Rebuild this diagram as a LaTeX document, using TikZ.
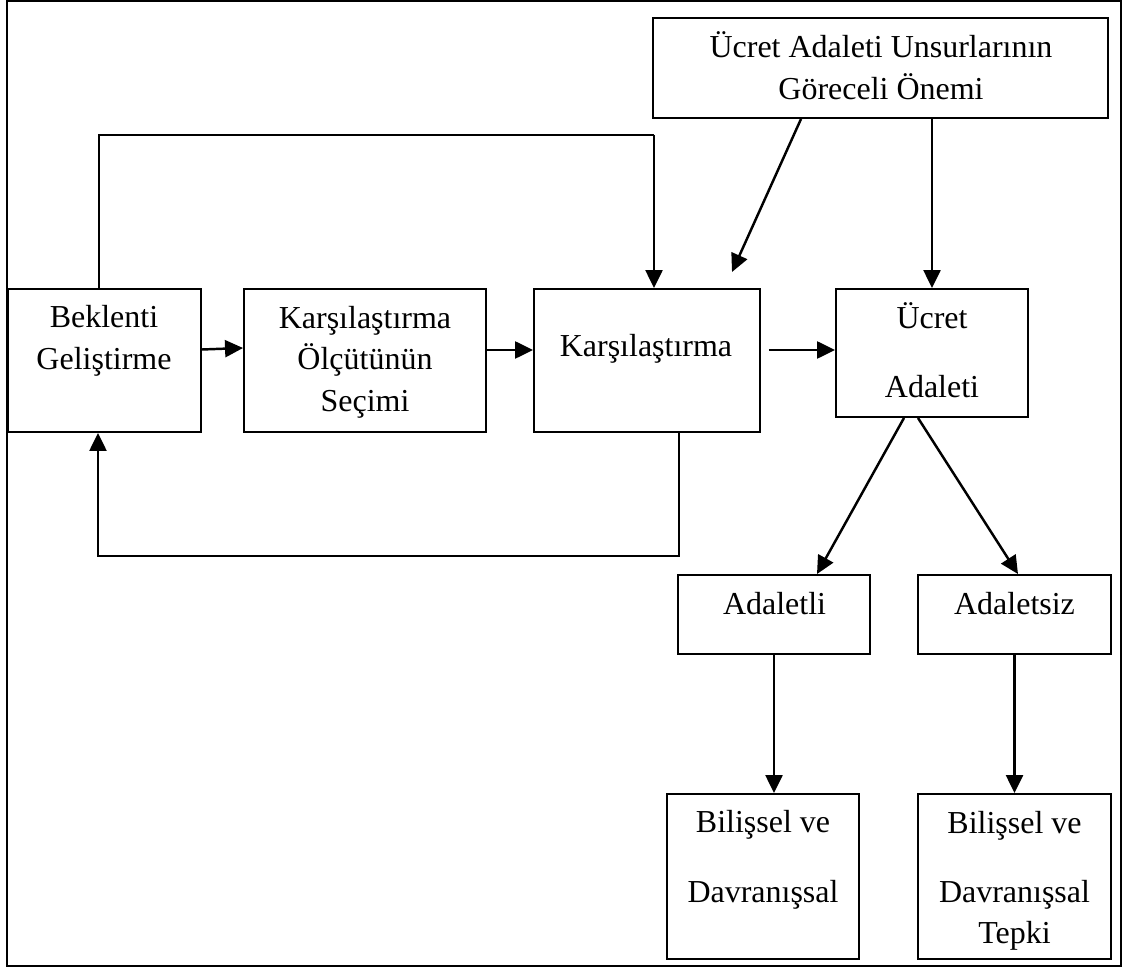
\documentclass[tikz,border=0pt]{standalone}
\usepackage{fontspec}
\setmainfont{Liberation Serif}
\usetikzlibrary{arrows.meta}

\begin{document}
\begin{tikzpicture}[
        font=\fontsize{18.2}{23.9}\selectfont,
        box/.style={rectangle, draw, line width=1.1pt, inner sep=0pt},
        txt/.style={align=center, anchor=base, inner sep=0pt},
        arr/.style={-{Triangle[length=0.36cm, width=0.34cm]}, line width=1.4pt},
        plain/.style={line width=1pt},
    ]
        \useasboundingbox (0,0) rectangle (22.46,-19.38);

        % Frame
        \draw[line width=1.2pt] (0.14,-0.02) rectangle (22.42,-19.32);

        % Main row
        \node[box, minimum width=3.86cm, minimum height=2.86cm] (bek) at (2.09,-7.21) {};
        \node[box, minimum width=4.84cm, minimum height=2.86cm] (olc) at (7.30,-7.21) {};
        \node[box, minimum width=4.52cm, minimum height=2.86cm] (kar) at (12.94,-7.21) {};
        \node[box, minimum width=3.84cm, minimum height=2.56cm] (ucret) at (18.64,-7.06) {};
        \node[txt] (bektxt) at (2.08,-7.40) {Beklenti\\Geliştirme};
        \node[txt] (olctxt) at (7.30,-8.24) {Karşılaştırma\\Ölçütünün\\Seçimi};
        \node[txt] (kartxt) at (12.92,-7.14) {Karşılaştırma};
        \node[txt] (ucrettxt) at (18.64,-7.96) {Ücret\\[15.9pt]Adaleti};

        % Relative importance
        \node[box, minimum width=9.10cm, minimum height=2.00cm] (onem) at (17.61,-1.36) {};
        \node[txt] (onemtxt) at (17.62,-2.00) {Ücret Adaleti Unsurlarının\\Göreceli Önemi};

        % Outcomes
        \node[box, minimum width=3.84cm, minimum height=1.58cm] (adl) at (15.48,-12.29) {};
        \node[box, minimum width=3.86cm, minimum height=1.58cm] (ads) at (20.29,-12.29) {};
        \node[txt] (adltxt) at (15.49,-12.28) {Adaletli};
        \node[txt] (adstxt) at (20.29,-12.28) {Adaletsiz};

        % Reactions
        \node[box, minimum width=3.84cm, minimum height=3.30cm] (tep1) at (15.26,-17.53) {};
        \node[box, minimum width=3.86cm, minimum height=3.30cm] (tep2) at (20.29,-17.53) {};
        \node[txt] (tep1txt) at (15.26,-18.04) {Bilişsel ve\\[15.4pt]Davranışsal};
        \node[txt] (tep2txt) at (20.29,-18.86) {Bilişsel ve\\[15.4pt]Davranışsal\\[-0.7pt]Tepki};

        % Free end of the slanted arrow, corner of the top loop
        \coordinate (mod) at (14.64,-5.44);
        \coordinate (turn) at (13.08,-2.70);

        % Arrows
        \draw[arr] ([yshift=0.22cm]bek.east) -- ([yshift=0.25cm]olc.west);
        \draw[arr] ([yshift=0.21cm]olc.east) -- ([yshift=0.21cm]kar.west);
        \draw[arr] ([xshift=0.16cm, yshift=0.21cm]kar.east) -- ([yshift=0.06cm]ucret.west);
        \draw[arr] (onem.south -| ucret.north) -- (ucret.north);
        \draw[arr] ([xshift=-1.59cm]onem.south) -- (mod);
        \draw[plain] ([xshift=-0.11cm]bek.north) |- (turn);
        \draw[arr] (turn) -- (turn |- kar.north);
        \draw[arr] ([xshift=0.64cm]kar.south) -- ++(0,-2.46) -| ([xshift=-0.13cm]bek.south);
        \draw[arr] ([xshift=-0.56cm]ucret.south) -- ([xshift=0.86cm]adl.north);
        \draw[arr] ([xshift=-0.28cm]ucret.south) -- ([xshift=0.07cm]ads.north);
        \draw[arr] (adl.south) -- (adl.south |- tep1.north);
        \draw[arr] (ads.south) -- (ads.south |- tep2.north);

    \end{tikzpicture}
\end{document}
